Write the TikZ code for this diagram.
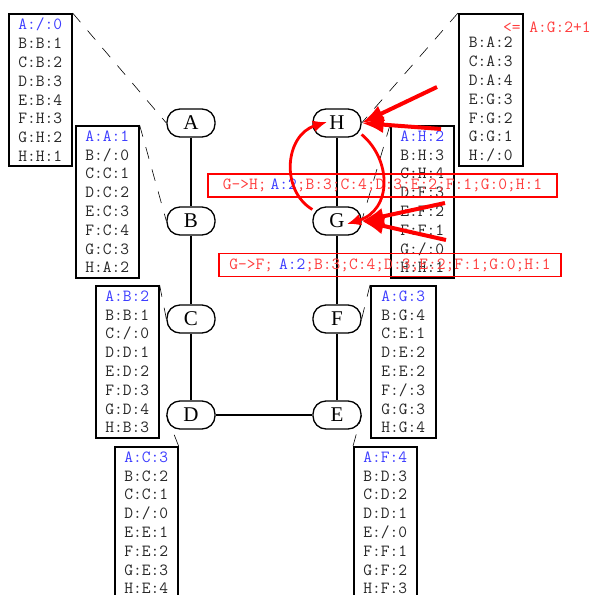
\documentclass[tikz,border=0pt]{standalone}
\usepackage{fontspec}
\setmainfont{Liberation Serif}
\usetikzlibrary{arrows.meta,calc}
\definecolor{tblue}{RGB}{60,60,255}
\definecolor{tred}{RGB}{255,60,60}
\begin{document}
\begin{tikzpicture}[x=1pt,y=-1pt,
  router/.style={draw,line width=1.3pt,rounded corners=13pt,minimum width=48pt,minimum height=28pt,inner sep=0pt,fill=white,font=\fontsize{21}{24}\selectfont},
  rtable/.style={draw,line width=1.6pt,anchor=north west,minimum width=63pt,minimum height=152pt,align=left,inner sep=0pt,text=black!85,font=\fontsize{17}{18.8}\selectfont\ttfamily},
  updbox/.style={draw=red,line width=1.6pt,minimum height=23pt,inner sep=0pt,text=tred,font=\fontsize{17}{18.8}\selectfont\ttfamily},
  dashlink/.style={line width=0.6pt,dash pattern=on 12pt off 11pt},
  link/.style={line width=1.3pt},
  hotarrow/.style={red,line width=4pt,-{Latex[length=22pt,width=17pt]}},
  looparrow/.style={red,line width=2.8pt,-{Latex[length=14pt,width=12pt]}}]
\useasboundingbox (0,0) rectangle (594,595);
\node[rtable] (tA) at (8,13) {\textcolor{tblue}{A:/:0}\\B:B:1\\C:B:2\\D:B:3\\E:B:4\\F:H:3\\G:H:2\\H:H:1};
\node[rtable] (tB) at (75,125) {\textcolor{tblue}{A:A:1}\\B:/:0\\C:C:1\\D:C:2\\E:C:3\\F:C:4\\G:C:3\\H:A:2};
\node[rtable] (tC) at (95,285) {\textcolor{tblue}{A:B:2}\\B:B:1\\C:/:0\\D:D:1\\E:D:2\\F:D:3\\G:D:4\\H:B:3};
\node[rtable] (tD) at (114,446) {\textcolor{tblue}{A:C:3}\\B:C:2\\C:C:1\\D:/:0\\E:E:1\\F:E:2\\G:E:3\\H:E:4};
\node[rtable] (tE) at (353,446) {\textcolor{tblue}{A:F:4}\\B:D:3\\C:D:2\\D:D:1\\E:/:0\\F:F:1\\G:F:2\\H:F:3};
\node[rtable,minimum width=65pt] (tF) at (370,285) {\textcolor{tblue}{A:G:3}\\B:G:4\\C:E:1\\D:E:2\\E:E:2\\F:/:3\\G:G:3\\H:G:4};
\node[rtable] (tG) at (390,125) {\textcolor{tblue}{A:H:2}\\B:H:3\\C:H:4\\D:F:3\\E:F:2\\F:F:1\\G:/:0\\H:H:1};
\node[rtable,minimum width=64pt] (tH) at (458,13) {\phantom{A:/:0}\\B:A:2\\C:A:3\\D:A:4\\E:G:3\\F:G:2\\G:G:1\\H:/:0};
\node[anchor=west,inner sep=0pt,text=tred,font=\fontsize{17}{18.8}\selectfont\ttfamily] (upd) at (503,27) {<= A:G:2+1};

\node[router] (A) at (191,123) {A};
\node[router] (B) at (191,221) {B};
\node[router] (C) at (191,319) {C};
\node[router] (D) at (191,415) {D};
\node[router] (H) at (337,123) {H};
\node[router] (G) at (337,221) {G};
\node[router] (F) at (337,319) {F};
\node[router] (E) at (337,415) {E};
\draw[dashlink] (tA.north east)--(A.west);
\draw[dashlink] (tB.north east)--(B.west);
\draw[dashlink] (tC.north east)--(C.west);
\draw[dashlink] (tD.north east)--(D.west);
\draw[dashlink] (tE.north west)--(E.east);
\draw[dashlink] (tF.north west)--(F.east);
\draw[dashlink] (tG.north west)--(G.east);
\draw[dashlink] (tH.north west)--(H.east);
\draw[link] (A)--(B) (B)--(C) (C)--(D) (D)--(E) (E)--(F) (F)--(G) (G)--(H);

\node[updbox,minimum width=349pt] (msgH) at (382.5,185.5) {G->H;\hspace{4pt}\textcolor{tblue}{A:2};B:3;C:4;D:3;E:2;F:1;G:0;H:1};
\node[updbox,minimum width=342pt] (msgF) at (390,265) {G->F;\hspace{6pt}\textcolor{tblue}{A:2};B:3;C:4;D:3;E:2;F:1;G:0;H:1};

\draw[looparrow] (G.155) .. controls (280,190) and (285,135) .. ($(H.center)+(-10,-1)$);
\draw[looparrow] (H.-25) .. controls (392,160) and (392,210) .. ($(G.center)+(10,3)$);
\coordinate (h1) at (437,87);
\coordinate (h2) at (441,129);
\coordinate (g1) at (445,203);
\coordinate (g2) at (446,240);
\draw[hotarrow] (h1)--(H.east);
\draw[hotarrow] (h2)--(H.east);
\draw[hotarrow] (g1)--(G.east);
\draw[hotarrow] (g2)--(G.east);
\end{tikzpicture}
\end{document}
